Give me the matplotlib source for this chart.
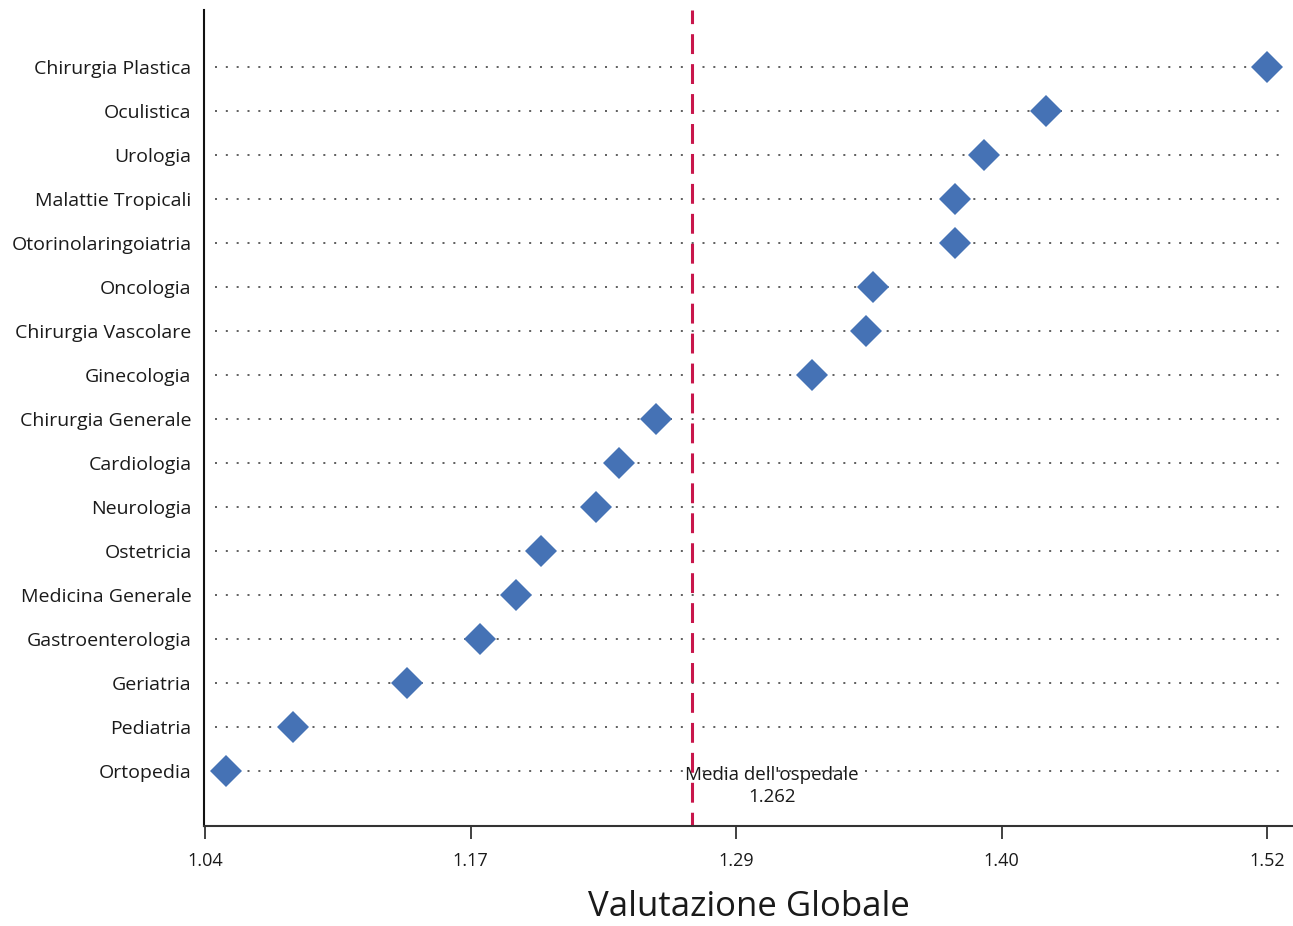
import numpy as np
import matplotlib
matplotlib.use("Agg")
import matplotlib.pyplot as plt

# ---- data ----
categories = ["Ortopedia", "Pediatria", "Geriatria", "Gastroenterologia",
              "Medicina Generale", "Ostetricia", "Neurologia", "Cardiologia",
              "Chirurgia Generale", "Ginecologia", "Chirurgia Vascolare",
              "Oncologia", "Otorinolaringoiatria", "Malattie Tropicali",
              "Urologia", "Oculistica", "Chirurgia Plastica"]
values = [1.053, 1.083, 1.134, 1.167, 1.183, 1.194, 1.219, 1.229,
          1.246, 1.316, 1.340, 1.343, 1.380, 1.380, 1.393, 1.421, 1.520]
hospital_mean = 1.262
axis_min = 1.0434
axis_max = 1.520
tick_labels = ["1.04", "1.17", "1.29", "1.40", "1.52"]
x_title = "Valutazione Globale"
mean_label = "Media dell'ospedale"

plt.rcParams['font.family'] = ['Open Sans', 'DejaVu Sans']

W, H = 1293, 926
fig = plt.figure(figsize=(W / 100, H / 100), dpi=100)
ax = fig.add_axes([204 / W, 1 - 826 / H, 1 - 204 / W, (826 - 10) / H])

ypos = np.arange(len(categories))
px = (axis_max - axis_min) / 1062.0
xl, xr = axis_min - 1 * px, axis_min + (1293 - 205) * px
ax.set_xlim(xl, xr)
ax.set_ylim(-1.25, len(categories) - 1 + 1.3)

# dotted guide lines
ax.hlines(ypos, xl + 11 * px, xr - 6 * px, colors='#444444',
          linestyles=(0, (1.2, 5.3)), linewidth=1.2, zorder=1)

# mean line
ax.axvline(hospital_mean, color='#C8164B', linewidth=2.2,
           linestyle=(2.0, (6.5, 3.3)), zorder=2)
ax.text(hospital_mean + 80 * px, 0.12, f"{mean_label}\n{hospital_mean:.3f}",
        ha='center', va='top', fontsize=13.5, color='#1a1a1a',
        linespacing=1.3, zorder=4)

# points
ax.plot(values, ypos, linestyle='none', marker='D', markersize=16,
        color='#4572B5', markeredgewidth=0, zorder=3)

ax.set_yticks(ypos)
ax.set_yticklabels(categories, fontsize=14, color='#1a1a1a')
ax.tick_params(axis='y', length=0, pad=9)

ax.set_xticks(np.linspace(axis_min, axis_max, len(tick_labels)))
ax.set_xticklabels(tick_labels, fontsize=13, color='#1a1a1a')
ax.tick_params(axis='x', length=9, width=1.3, color='#333333', pad=10)

ax.set_xlabel(x_title, fontsize=25, color='#1a1a1a', labelpad=14)

for s in ['top', 'right']:
    ax.spines[s].set_visible(False)
ax.spines['left'].set_color('#111111')
ax.spines['left'].set_linewidth(1.5)
ax.spines['bottom'].set_color('#333333')
ax.spines['bottom'].set_linewidth(1.5)

fig.savefig('out.png', dpi=100)
